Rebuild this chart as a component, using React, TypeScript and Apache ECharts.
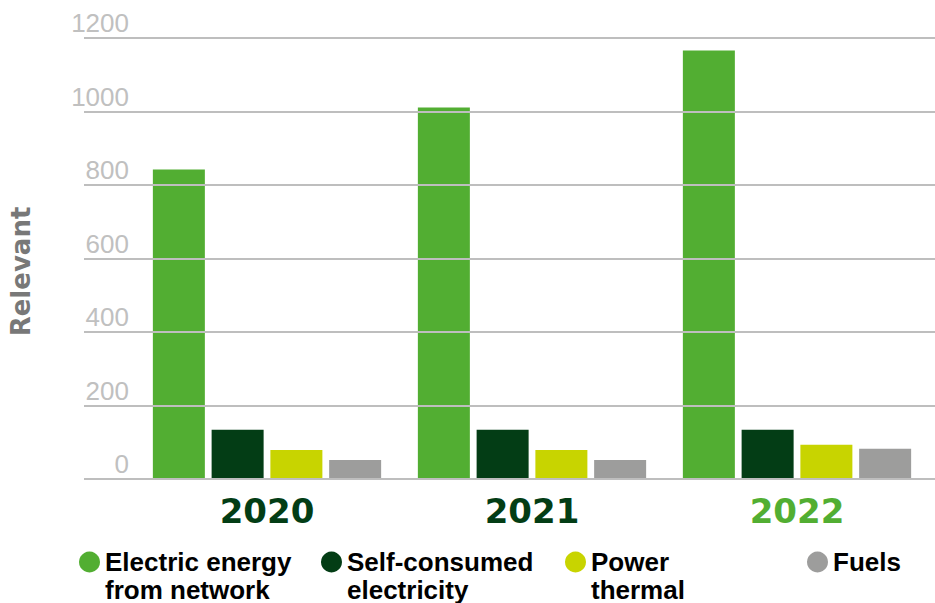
import React, { useEffect, useRef } from "react";
import * as echarts from "echarts";

const years = ["2020", "2021", "2022"];
const yearColors = ["#033d15", "#033d15", "#52ae32"];
const seriesNames = ["Electric energy from network", "Self-consumed electricity", "Power thermal", "Fuels"];
const legendLabels = [" \nElectric energy\nfrom network", " \nSelf-consumed\nelectricity", " \nPower\nthermal", "Fuels"];
const seriesColors = ["#52ae32", "#033d15", "#c8d400", "#9d9d9c"];
const electricFromNetwork = [842, 1011, 1166];
const selfConsumed = [134, 134, 134];
const powerThermal = [79, 79, 93];
const fuels = [52, 52, 82];
const yTicks = { min: 0, max: 1200, interval: 200 };
const legendLefts = [79, 321, 565, 807];

export default function App() {
  const ref = useRef<HTMLDivElement>(null);
  useEffect(() => {
    if (!ref.current) return;
    const chart = echarts.init(ref.current, undefined, { renderer: "svg" });
    const values = [electricFromNetwork, selfConsumed, powerThermal, fuels];
    const option: any = {
      animation: false,
      backgroundColor: "#ffffff",
      grid: [
        { left: 74, right: 0, top: 38, height: 441 },
        { left: 134.5, right: 5.5, top: 38, height: 441 },
      ],
      xAxis: [
        { type: "category", gridIndex: 0, data: years, show: false },
        {
          type: "category",
          gridIndex: 1,
          data: years.map((y, i) => ({ value: y, textStyle: { color: yearColors[i] } })),
          axisLine: { show: false },
          axisTick: { show: false },
          axisLabel: {
            margin: 15,
            fontFamily: "DejaVu Sans",
            fontWeight: "bold",
            fontSize: 34,
          },
        },
      ],
      yAxis: [
        {
          type: "value",
          gridIndex: 0,
          min: yTicks.min,
          max: yTicks.max,
          interval: yTicks.interval,
          z: 5,
          axisLine: { show: false },
          axisTick: { show: false },
          splitLine: { show: true, lineStyle: { color: "#bebebe", width: 2 } },
          axisLabel: {
            inside: true,
            margin: 45,
            align: "right",
            verticalAlign: "bottom",
            padding: [0, 0, 2, 0],
            fontFamily: "Liberation Sans",
            fontSize: 26,
            color: "#c0c0c0",
            formatter: (v: number) => String(v),
          },
          name: "Relevant",
          nameLocation: "middle",
          nameRotate: 90,
          nameGap: 50,
          nameTextStyle: {
            fontFamily: "DejaVu Sans",
            fontWeight: "bold",
            fontSize: 26,
            color: "#787878",
            padding: [0, 26, 0, 0],
          },
        },
        {
          type: "value",
          gridIndex: 1,
          min: yTicks.min,
          max: yTicks.max,
          interval: yTicks.interval,
          show: false,
        },
      ],
      legend: seriesNames.map((name, i) => ({
        data: [name],
        left: legendLefts[i],
        top: i === 3 ? 548 : 520,
        padding: 0,
        icon: "circle",
        itemWidth: 21,
        itemHeight: 21,
        formatter: () => legendLabels[i],
        textStyle: {
          fontFamily: "Liberation Sans",
          fontWeight: "bold",
          fontSize: 26,
          lineHeight: 28,
          color: "#000000",
        },
      })),
      series: seriesNames.map((name, i) => ({
        name,
        type: "bar",
        xAxisIndex: 1,
        yAxisIndex: 1,
        barWidth: 52,
        barGap: "13%",
        itemStyle: { color: seriesColors[i] },
        data: values[i],
      })),
    };
    chart.setOption(option);
    return () => chart.dispose();
  }, []);
  return <div ref={ref} style={{ width: 935, height: 603, position: "absolute", left: 0, top: 0 }} />;
}
